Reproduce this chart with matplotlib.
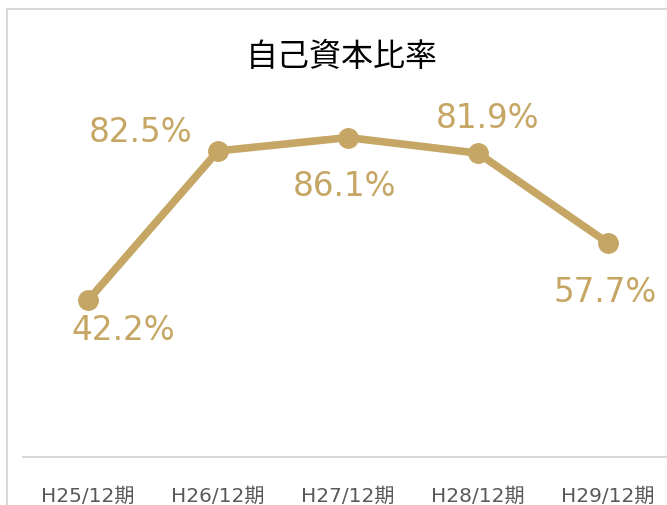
import matplotlib.pyplot as plt
from matplotlib.lines import Line2D

plt.rcParams['font.family'] = ['Noto Sans CJK JP', 'DejaVu Sans']

categories = ['H25/12期', 'H26/12期', 'H27/12期', 'H28/12期', 'H29/12期']
ratios = [42.2, 82.5, 86.1, 81.9, 57.7]

gold = '#C6A664'
W, H = 667, 506

fig = plt.figure(figsize=(W / 100, H / 100), dpi=100)

# plot area (pixel box converted to figure fractions)
left, right, top, bottom = 23, 673, 87, 458
ax = fig.add_axes([left / W, 1 - bottom / H, (right - left) / W, (bottom - top) / H])
ax.set_xlim(-0.5, len(categories) - 0.5)
ax.set_ylim(0, 100)

x = list(range(len(categories)))
ax.plot(x, ratios, color=gold, lw=5.5, marker='o', ms=14, solid_capstyle='round', clip_on=False)

# label offsets in pixels (dx, dy) as placed in the original
offsets = [(35, -29), (-77, 19), (-4, -48), (9, 36), (-3, -49)]
for xi, v, (dx, dy) in zip(x, ratios, offsets):
    ax.annotate(f'{v:.1f}%', (xi, v), xytext=(dx, dy), textcoords='offset pixels',
                ha='center', va='center', fontsize=23.5, color=gold,
                family=['DejaVu Sans'], annotation_clip=False)

ax.set_xticks(x)
ax.set_xticklabels(categories, fontsize=14.5, color='#595959',
                   family=['DejaVu Sans', 'Noto Sans CJK JP'])
ax.set_yticks([])
for s in ['left', 'right', 'top']:
    ax.spines[s].set_visible(False)
ax.spines['bottom'].set_color('#d9d9d9')
ax.spines['bottom'].set_linewidth(1.5)
ax.tick_params(axis='x', length=0, pad=21)

# outer chart frame (cropped on the right and bottom)
fc = '#d9d9d9'
fig.add_artist(Line2D([7 / W, 7 / W], [0, 1 - 10 / H], color=fc, lw=1.5))
fig.add_artist(Line2D([7 / W, 1], [1 - 10 / H, 1 - 10 / H], color=fc, lw=1.5))

fig.text(342 / W, 1 - 57 / H, '自己資本比率', ha='center', va='center', fontsize=23, color='black')

fig.savefig('out.png', dpi=100)
